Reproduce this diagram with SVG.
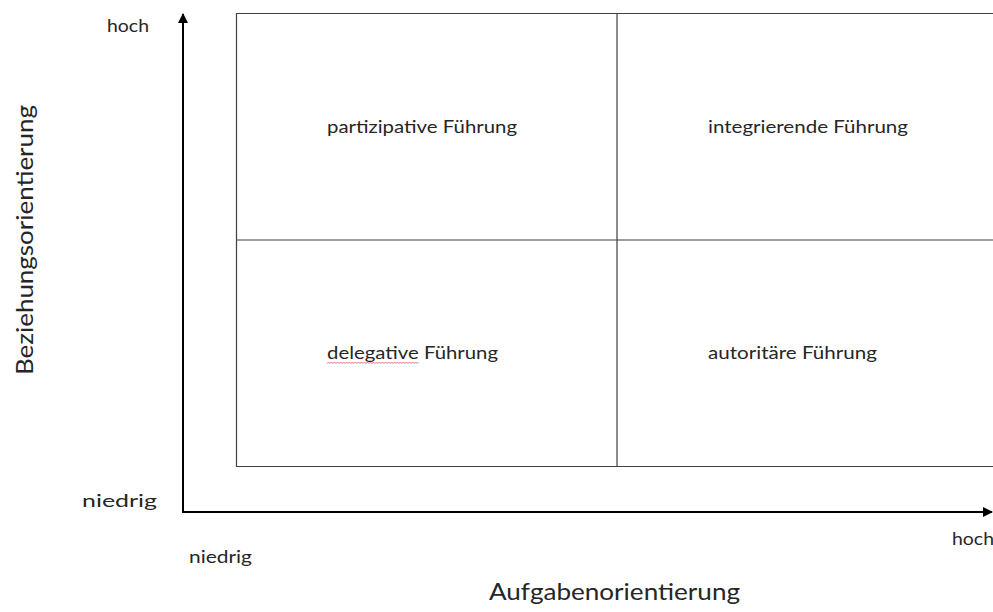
<svg xmlns="http://www.w3.org/2000/svg" width="993" height="612" viewBox="0 0 993 612">
<defs>
<style>
.t{font-family:Lato,"Open Sans","Liberation Sans",sans-serif;fill:#262626;font-size:18px}
.big{font-size:24px}
.grid{fill:none;stroke:#404040;stroke-width:1.2}
.axis{fill:none;stroke:#000;stroke-width:2}
</style>
<marker id="arr" viewBox="0 0 10 10" refX="9" refY="5" markerWidth="10" markerHeight="10" markerUnits="userSpaceOnUse" orient="auto">
<path d="M0,0 L10,5 L0,10 z" fill="#000"/>
</marker>
</defs>
<rect width="993" height="612" fill="#fff"/>
<g id="connectors">
<path class="axis" d="M183,512 L183,14" marker-end="url(#arr)"/>
<path class="axis" d="M182,512 L992,512" marker-end="url(#arr)"/>
</g>
<g id="matrix">
<path class="grid" d="M1000,13.5 L236.5,13.5 L236.5,466.5 L1000,466.5 M617,13.5 L617,466.5 M236.5,240 L1000,240"/>
</g>
<g id="q-partizipativ"><text class="t" x="327" y="133" textLength="190" lengthAdjust="spacingAndGlyphs">partizipative Führung</text></g>
<g id="q-integrierend"><text class="t" x="708" y="133" textLength="200" lengthAdjust="spacingAndGlyphs">integrierende Führung</text></g>
<g id="q-delegativ"><text class="t" x="327" y="359" textLength="171" lengthAdjust="spacingAndGlyphs">delegative Führung</text>
<path d="M327,363.5 l1.5,-1.5 l1.5,1.5 l1.5,-1.5 l1.5,1.5 l1.5,-1.5 l1.5,1.5 l1.5,-1.5 l1.5,1.5 l1.5,-1.5 l1.5,1.5 l1.5,-1.5 l1.5,1.5 l1.5,-1.5 l1.5,1.5 l1.5,-1.5 l1.5,1.5 l1.5,-1.5 l1.5,1.5 l1.5,-1.5 l1.5,1.5 l1.5,-1.5 l1.5,1.5 l1.5,-1.5 l1.5,1.5 l1.5,-1.5 l1.5,1.5 l1.5,-1.5 l1.5,1.5 l1.5,-1.5 l1.5,1.5 l1.5,-1.5 l1.5,1.5 l1.5,-1.5 l1.5,1.5 l1.5,-1.5 l1.5,1.5 l1.5,-1.5 l1.5,1.5 l1.5,-1.5 l1.5,1.5 l1.5,-1.5 l1.5,1.5 l1.5,-1.5 l1.5,1.5 l1.5,-1.5 l1.5,1.5 l1.5,-1.5 l1.5,1.5 l1.5,-1.5 l1.5,1.5 l1.5,-1.5 l1.5,1.5 l1.5,-1.5 l1.5,1.5 l1.5,-1.5 l1.5,1.5 l1.5,-1.5 l1.5,1.5 l1.5,-1.5 l1.5,1.5 l1.5,-1.5" fill="none" stroke="#e05050" stroke-width="0.8"/></g>
<g id="q-autoritaer"><text class="t" x="708" y="359" textLength="169" lengthAdjust="spacingAndGlyphs">autoritäre Führung</text></g>
<g id="labels">
<text class="t" x="107" y="32" textLength="42" lengthAdjust="spacingAndGlyphs">hoch</text>
<text class="t" x="82" y="507" textLength="75" lengthAdjust="spacingAndGlyphs">niedrig</text>
<text class="t" x="189" y="563" textLength="63" lengthAdjust="spacingAndGlyphs">niedrig</text>
<text class="t" x="952" y="545" textLength="42" lengthAdjust="spacingAndGlyphs">hoch</text>
<text class="t big" x="489" y="600" textLength="251" lengthAdjust="spacingAndGlyphs">Aufgabenorientierung</text>
<text class="t big" transform="translate(33,375) rotate(-90)" x="0" y="0" textLength="270" lengthAdjust="spacingAndGlyphs">Beziehungsorientierung</text>
</g>
</svg>
